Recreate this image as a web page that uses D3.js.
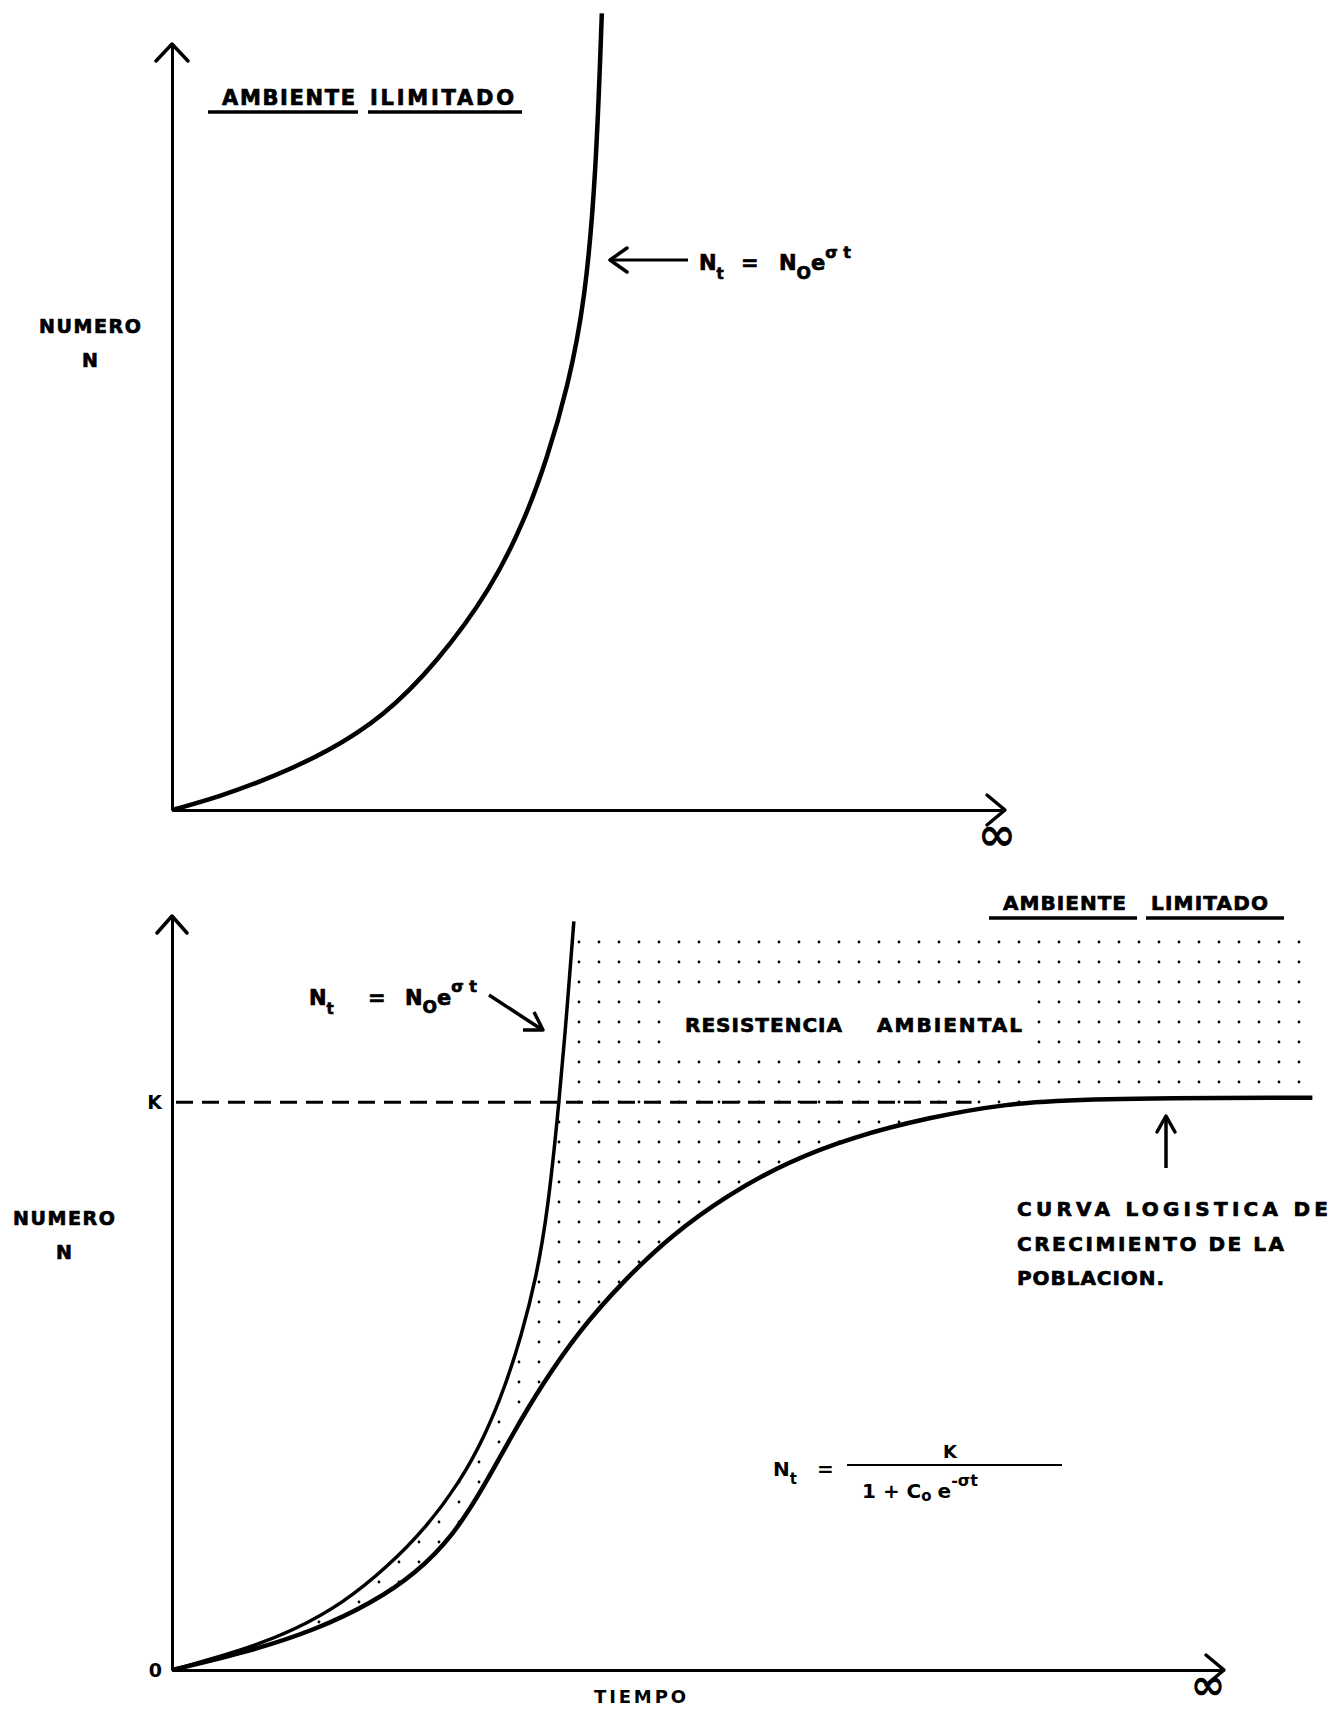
<!DOCTYPE html>
<html lang="es">
<head>
<meta charset="UTF-8">
<title>Crecimiento de la poblacion</title>
<style>
  body { margin: 0; background: #fff; }
  svg text { font-family: "DejaVu Sans", "Liberation Sans", sans-serif; font-weight: bold; fill: #000; }
  svg text.grueso { stroke: #000; stroke-width: 0.7px; }
</style>
</head>
<body>
<svg width="1343" height="1711"></svg>

<script src="https://cdn.jsdelivr.net/npm/d3@7"></script>
<script>
// valores: t = tiempo, n = numero (escala 0-100 en cada grafico)
// grafico de arriba: ambiente ilimitado
var expTopT = [0, 5.6, 12.1, 18.7, 25.3, 31.8, 38.4, 42.4, 45.0, 47.5, 49.6, 50.9, 51.6];
var expTopN = [0, 1.7, 4.3, 7.6, 12.1, 19.2, 29.0, 38.0, 45.8, 55.1, 66.5, 82.9, 104.0];

// grafico de abajo: ambiente limitado
var expBotT = [0, 6.5, 11.7, 16.3, 20.5, 24.1, 27.3, 29.7, 31.7, 33.2, 34.6, 35.7, 36.8, 37.5, 38.2];
var expBotN = [0, 2.5, 5.3, 8.9, 13.7, 18.8, 24.8, 30.9, 37.7, 44.3, 51.9, 60.6, 75.3, 86.7, 99.3];

var logT = [0, 7.5, 13.8, 19.0, 23.1, 26.8, 29.8, 32.5, 35.1, 38.7, 42.9, 47.5, 52.8, 58.5, 64.7, 72.0, 79.3, 86.5, 108.4];
var logN = [0, 2.5, 5.4, 8.9, 12.7, 17.9, 24.7, 31.6, 37.7, 45.0, 51.6, 57.7, 63.0, 67.4, 70.7, 73.3, 75.1, 75.8, 75.9];

var K = 75.3;
var yTickVals = [0, K];
var yTickLabels = ["0", "K"];
var kLineEnd = 76;          // hasta donde llega la linea punteada de K
var resistTop = 96.8;       // borde superior de la zona punteada
var resistRight = 108.4;    // borde derecho de la zona punteada

var svg = d3.select("svg");

// escalas
var xTop = d3.scaleLinear().domain([0, 100]).range([172, 1005]);
var yTop = d3.scaleLinear().domain([0, 100]).range([810, 44]);
var xBot = d3.scaleLinear().domain([0, 100]).range([172, 1224]);
var yBot = d3.scaleLinear().domain([0, 100]).range([1670, 916]);

function pts(ts, ns) { return ts.map(function(t, i) { return [t, ns[i]]; }); }

var lineTop = d3.line().x(function(d) { return xTop(d[0]); }).y(function(d) { return yTop(d[1]); })
  .curve(d3.curveBasis);
var lineBot = d3.line().x(function(d) { return xBot(d[0]); }).y(function(d) { return yBot(d[1]); })
  .curve(d3.curveBasis);

// flecha abierta (tipo "<") con punta en x,y
function chevron(g, x, y, dir, len, w) {
  var a = len || 18, b = w || 15, p;
  if (dir == "up") p = [[x - b, y + a], [x, y], [x + b, y + a]];
  else if (dir == "right") p = [[x - a, y - b], [x, y], [x - a, y + b]];
  else if (dir == "left") p = [[x + a, y - b], [x, y], [x + a, y + b]];
  g.append("path").attr("d", d3.line()(p)).attr("fill", "none")
    .attr("stroke", "#000").attr("stroke-width", 3.5).attr("stroke-linejoin", "round").attr("stroke-linecap", "round");
}

function txt(x, y, s, size, len, anchor) {
  var t = svg.append("text").attr("x", x).attr("y", y).attr("font-size", size).text(s);
  if (len) t.attr("textLength", len).attr("lengthAdjust", "spacing");
  if (anchor) t.attr("text-anchor", anchor);
  return t;
}

function underline(x1, x2, y) {
  svg.append("line").attr("x1", x1).attr("x2", x2).attr("y1", y).attr("y2", y)
    .attr("stroke", "#000").attr("stroke-width", 3.5);
}

// ---------------- grafico de arriba ----------------
var gTop = svg.append("g");
gTop.append("g").attr("class", "axis")
  .attr("transform", "translate(0," + yTop(0) + ")")
  .call(d3.axisBottom(xTop).tickValues([]).tickSizeOuter(0));
gTop.append("g").attr("class", "axis")
  .attr("transform", "translate(" + xTop(0) + ",0)")
  .call(d3.axisLeft(yTop).tickValues([]).tickSizeOuter(0));
chevron(gTop, xTop(0), yTop(100), "up", 17, 16);
chevron(gTop, xTop(100), yTop(0), "right", 18, 15);

gTop.append("path").datum(pts(expTopT, expTopN)).attr("d", lineTop)
  .attr("fill", "none").attr("stroke", "#000").attr("stroke-width", 4.5);

// ---------------- grafico de abajo ----------------
var defs = svg.append("defs");
var pat = defs.append("pattern").attr("id", "puntos").attr("patternUnits", "userSpaceOnUse")
  .attr("x", 569).attr("y", 932).attr("width", 20).attr("height", 20);
pat.append("circle").attr("cx", 10).attr("cy", 10).attr("r", 1.4).attr("fill", "#000");
defs.append("clipPath").attr("id", "corte").append("rect")
  .attr("x", 0).attr("y", yBot(resistTop) - 5).attr("width", 1343).attr("height", 1711);

var gBot = svg.append("g");

// zona de resistencia ambiental (entre la exponencial y la logistica)
var expPts = pts(expBotT, expBotN);
var logPts = pts(logT, logN);
var zona = lineBot(expPts)
  + "L" + xBot(resistRight) + "," + yBot(expBotN[expBotN.length - 1])
  + "L" + xBot(resistRight) + "," + yBot(logN[logN.length - 1])
  + lineBot(logPts.slice().reverse()).replace("M", "L") + "Z";
gBot.append("path").attr("d", zona).attr("fill", "url(#puntos)").attr("clip-path", "url(#corte)");
gBot.append("rect").attr("x", 668).attr("y", 992).attr("width", 364).attr("height", 60).attr("fill", "#fff");

gBot.append("g").attr("class", "axis")
  .attr("transform", "translate(0," + yBot(0) + ")")
  .call(d3.axisBottom(xBot).tickValues([]).tickSizeOuter(0));
gBot.append("g").attr("class", "axis yb")
  .attr("transform", "translate(" + xBot(0) + ",0)")
  .call(d3.axisLeft(yBot).tickValues(yTickVals).tickSize(0).tickSizeOuter(0).tickPadding(10)
    .tickFormat(function(d, i) { return yTickLabels[i]; }));
chevron(gBot, xBot(0), yBot(100), "up", 17, 15);
chevron(gBot, xBot(100), yBot(0), "right", 18, 15);

// linea K
gBot.append("line").attr("x1", xBot(0) + 4).attr("x2", xBot(kLineEnd))
  .attr("y1", yBot(K)).attr("y2", yBot(K))
  .attr("stroke", "#000").attr("stroke-width", 3).attr("stroke-dasharray", "17,9");

gBot.append("path").datum(expPts).attr("d", lineBot)
  .attr("fill", "none").attr("stroke", "#000").attr("stroke-width", 3.5);
gBot.append("path").datum(logPts).attr("d", lineBot)
  .attr("fill", "none").attr("stroke", "#000").attr("stroke-width", 4.5);

svg.selectAll(".axis .domain").attr("stroke-width", 3);
svg.selectAll(".yb text").attr("font-size", 19).attr("font-weight", "bold");

// ---------------- textos ----------------
txt(222, 105, "AMBIENTE", 21, 133).attr("class", "grueso");
txt(370, 105, "ILIMITADO", 21, 144).attr("class", "grueso");
underline(208, 358, 112);
underline(368, 522, 112);

txt(90, 333, "NUMERO", 19, 102, "middle").attr("class", "grueso");
txt(90, 367, "N", 19, null, "middle").attr("class", "grueso");
txt(997, 850, "\u221e", 46, null, "middle").attr("font-weight", "normal");

// flecha y formula exponencial de arriba
gTop.append("line").attr("x1", 611).attr("x2", 688).attr("y1", 260).attr("y2", 260)
  .attr("stroke", "#000").attr("stroke-width", 3);
chevron(gTop, 610, 260, "left", 17, 12);
var f1 = txt(699, 270, "", 21).attr("class", "grueso");
f1.append("tspan").text("N");
f1.append("tspan").attr("font-size", 15).attr("dy", 9).text("t");
f1.append("tspan").attr("x", 741).attr("dy", -9).text("=");
f1.append("tspan").attr("x", 779).text("N");
f1.append("tspan").attr("font-size", 17).attr("dy", 9).text("O");
f1.append("tspan").attr("dy", -9).text("e");
f1.append("tspan").attr("font-size", 16).attr("dy", -12).text("\u03c3 t");

// abajo
txt(1003, 910, "AMBIENTE", 20, 123).attr("class", "grueso");
txt(1151, 910, "LIMITADO", 20, 117).attr("class", "grueso");
underline(989, 1137, 918);
underline(1146, 1284, 918);

txt(685, 1032, "RESISTENCIA", 20, 157).attr("class", "grueso");
txt(877, 1032, "AMBIENTAL", 20, 145).attr("class", "grueso");

var f2 = txt(309, 1005, "", 21).attr("class", "grueso");
f2.append("tspan").text("N");
f2.append("tspan").attr("font-size", 15).attr("dy", 9).text("t");
f2.append("tspan").attr("x", 368).attr("dy", -9).text("=");
f2.append("tspan").attr("x", 405).text("N");
f2.append("tspan").attr("font-size", 17).attr("dy", 8).text("O");
f2.append("tspan").attr("dy", -8).text("e");
f2.append("tspan").attr("font-size", 16).attr("dy", -13).text("\u03c3 t");

// flecha diagonal hacia la exponencial
gBot.append("line").attr("x1", 489).attr("y1", 995).attr("x2", 541).attr("y2", 1029)
  .attr("stroke", "#000").attr("stroke-width", 3.5);
gBot.append("path").attr("d", "M523,1030L543,1030L534,1012").attr("fill", "none")
  .attr("stroke", "#000").attr("stroke-width", 3.5).attr("stroke-linejoin", "round");

// flecha hacia arriba a la curva logistica
gBot.append("line").attr("x1", 1166).attr("x2", 1166).attr("y1", 1168).attr("y2", 1118)
  .attr("stroke", "#000").attr("stroke-width", 3.5);
chevron(gBot, 1166, 1116, "up", 16, 9);

txt(1017, 1216, "CURVA LOGISTICA DE", 20, 311).attr("class", "grueso");
txt(1017, 1251, "CRECIMIENTO  DE LA", 20, 267).attr("class", "grueso");
txt(1017, 1285, "POBLACION.", 20, 147).attr("class", "grueso");

txt(64, 1225, "NUMERO", 19, 102, "middle").attr("class", "grueso");
txt(64, 1259, "N", 19, null, "middle").attr("class", "grueso");

// formula logistica
var f3 = txt(773, 1476, "", 20);
f3.append("tspan").text("N");
f3.append("tspan").attr("font-size", 15).attr("dy", 8).text("t");
f3.append("tspan").attr("x", 817).attr("dy", -8).text("=");
gBot.append("line").attr("x1", 847).attr("x2", 1062).attr("y1", 1465).attr("y2", 1465)
  .attr("stroke", "#000").attr("stroke-width", 2);
txt(950, 1458, "K", 18, null, "middle");
var f4 = txt(862, 1498, "", 20).attr("font-weight", "normal");
f4.append("tspan").text("1 + C");
f4.append("tspan").attr("font-size", 15).attr("dy", 3).text("o");
f4.append("tspan").attr("dx", 6).attr("dy", -3).text("e");
f4.append("tspan").attr("font-size", 16).attr("dy", -12).text("-\u03c3t");

txt(640, 1703, "TIEMPO", 18, 92, "middle");
txt(1208, 1699, "\u221e", 42, null, "middle").attr("font-weight", "normal");
</script>
</body>
</html>
